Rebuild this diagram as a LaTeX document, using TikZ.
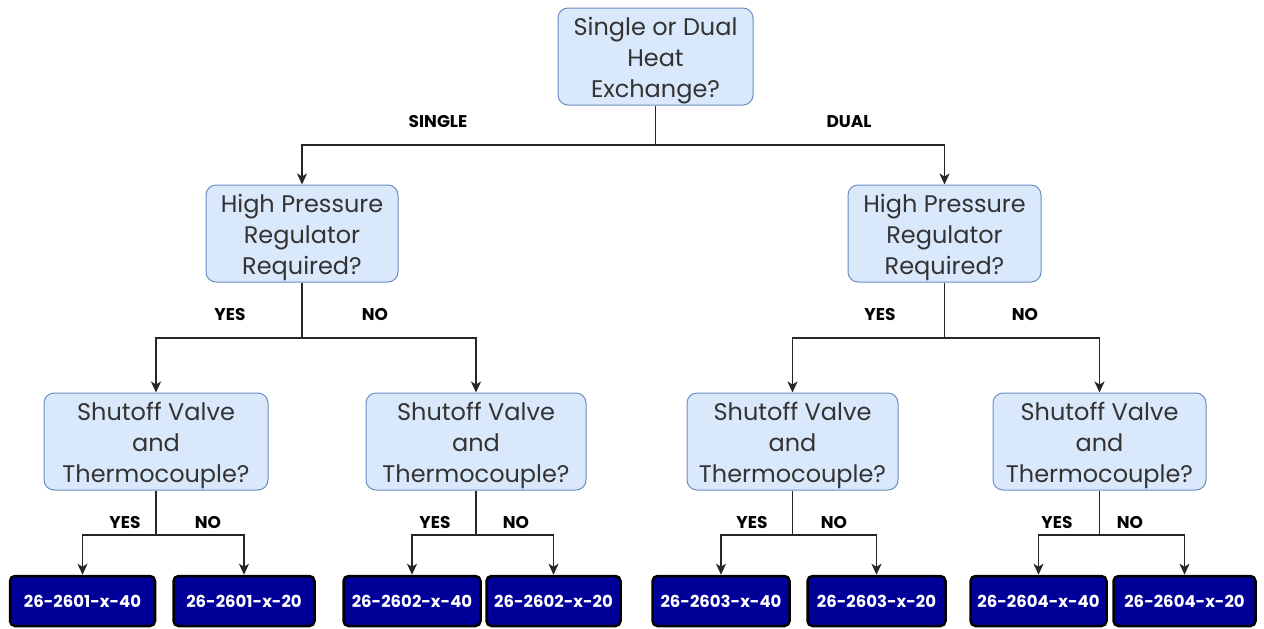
\documentclass[tikz,border=0pt]{standalone}
\usepackage{fontspec}
\setmainfont{Poppins}
\usetikzlibrary{arrows.meta}
\definecolor{qfill}{HTML}{DAE8FC}
\definecolor{qdraw}{HTML}{6C8EBF}
\definecolor{navy}{HTML}{000099}
\newcommand{\tstrut}{\rule{0pt}{26pt}}
\begin{document}
\begin{tikzpicture}[x=1pt,y=-1pt,
  qbox/.style={draw=qdraw,fill=qfill,rounded corners=10pt,line width=1pt,
    minimum height=97pt,align=center,font=\fontsize{24}{31}\selectfont,text=black!80,
    inner xsep=2pt,inner ysep=0.5pt},
  pbox/.style={draw=black,fill=navy,rounded corners=5pt,line width=2.5pt,
    minimum height=50pt,text=white,font=\fontsize{16.5}{18}\selectfont\bfseries,inner xsep=2pt},
  lbl/.style={font=\fontsize{17}{19}\selectfont\bfseries,text=black},
  conn/.style={draw=black!85,line width=1.5pt},
  arr/.style={conn,-{Stealth[length=11pt,width=10pt,inset=3pt]}}]
\useasboundingbox (0,0) rectangle (1264,629);
% question nodes
\node[qbox,minimum width=195pt] (q0) at (655.5,56.5) {\tstrut Single or Dual\\Heat\\Exchange?};
\node[qbox,minimum width=192pt] (q1) at (302,233.5) {\tstrut High Pressure\\Regulator\\Required?};
\node[qbox,minimum width=193pt] (q2) at (944.5,233.5) {\tstrut High Pressure\\Regulator\\Required?};
\node[qbox,minimum width=224pt] (q11) at (156,441.5) {\tstrut Shutoff Valve\\and\\Thermocouple?};
\node[qbox,minimum width=220pt] (q12) at (476,441.5) {\tstrut Shutoff Valve\\and\\Thermocouple?};
\node[qbox,minimum width=211pt] (q21) at (792.5,441.5) {\tstrut Shutoff Valve\\and\\Thermocouple?};
\node[qbox,minimum width=213pt] (q22) at (1099.5,441.5) {\tstrut Shutoff Valve\\and\\Thermocouple?};
% product nodes
\node[pbox,minimum width=145pt] (p1) at (82.5,601) {26-2601-x-40};
\node[pbox,minimum width=141pt] (p2) at (244,601) {26-2601-x-20};
\node[pbox,minimum width=137pt] (p3) at (412,601) {26-2602-x-40};
\node[pbox,minimum width=134pt] (p4) at (553.5,601) {26-2602-x-20};
\node[pbox,minimum width=137pt] (p5) at (721,601) {26-2603-x-40};
\node[pbox,minimum width=138pt] (p6) at (876.5,601) {26-2603-x-20};
\node[pbox,minimum width=136pt] (p7) at (1038.5,601) {26-2604-x-40};
\node[pbox,minimum width=142pt] (p8) at (1184.5,601) {26-2604-x-20};
% branch points
\coordinate (b0) at (655.5,145);
\coordinate (b1) at (302,338);
\coordinate (b2) at (944.5,338);
\coordinate (b11) at (156,535);
\coordinate (b12) at (476,535);
\coordinate (b21) at (792.5,535);
\coordinate (b22) at (1099.5,535);
% connectors
\draw[conn] (q0.south) -- (b0);
\draw[arr] (b0) -| (q1.north);
\draw[arr] (b0) -| (q2.north);
\draw[conn] (q1.south) -- (b1);
\draw[arr] (b1) -| (q11.north);
\draw[arr] (b1) -| (q12.north);
\draw[conn] (q2.south) -- (b2);
\draw[arr] (b2) -| (q21.north);
\draw[arr] (b2) -| (q22.north);
\draw[conn] (q11.south) -- (b11);
\draw[arr] (b11) -| (p1.north);
\draw[arr] (b11) -| (p2.north);
\draw[conn] (q12.south) -- (b12);
\draw[arr] (b12) -| (p3.north);
\draw[arr] (b12) -| (p4.north);
\draw[conn] (q21.south) -- (b21);
\draw[arr] (b21) -| (p5.north);
\draw[arr] (b21) -| (p6.north);
\draw[conn] (q22.south) -- (b22);
\draw[arr] (b22) -| (p7.north);
\draw[arr] (b22) -| (p8.north);
% labels
\node[lbl] (l0a) at (438,122) {SINGLE};
\node[lbl] (l0b) at (849,122) {DUAL};
\node[lbl] (l1a) at (230,315) {YES};
\node[lbl] (l1b) at (375,315) {NO};
\node[lbl] (l2a) at (880,315) {YES};
\node[lbl] (l2b) at (1025,315) {NO};
\node[lbl] (l11a) at (125,523) {YES};
\node[lbl] (l11b) at (208,523) {NO};
\node[lbl] (l12a) at (435,523) {YES};
\node[lbl] (l12b) at (516,523) {NO};
\node[lbl] (l21a) at (752,523) {YES};
\node[lbl] (l21b) at (834,523) {NO};
\node[lbl] (l22a) at (1057,523) {YES};
\node[lbl] (l22b) at (1130,523) {NO};
\end{tikzpicture}
\end{document}
